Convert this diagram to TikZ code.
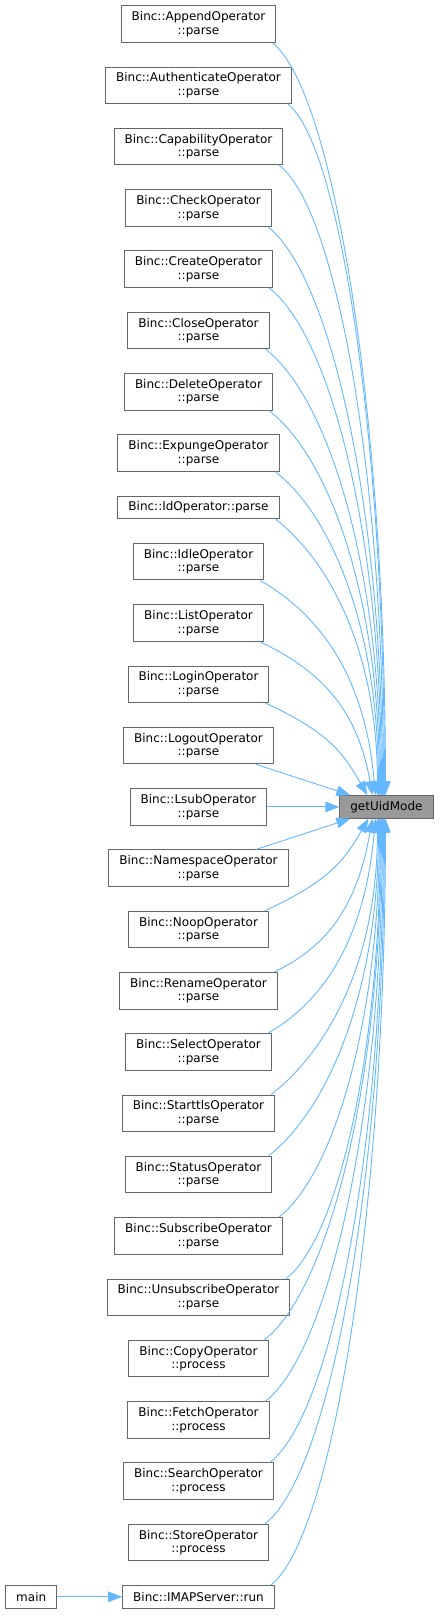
\documentclass[tikz,border=0pt]{standalone}
\usepackage{fontspec}
\setmainfont{DejaVu Sans}
\usepackage{tikz}
\usetikzlibrary{arrows.meta,positioning}
\definecolor{edgeblue}{HTML}{63B8FF}
\definecolor{boxgray}{HTML}{666666}
\definecolor{uidgray}{HTML}{999999}

\begin{document}
\begin{tikzpicture}[
        x=1pt, y=1pt,
        node distance=23.8pt and 72pt,
        box/.style={rectangle, draw=boxgray, line width=1pt, fill=#1, text=black,
            minimum height=36.5pt, inner xsep=10.5pt, inner ysep=2pt,
            align=center, font=\fontsize{12}{13.6}\selectfont},
        box/.default=white,
        onebox/.style={box=#1, minimum height=22.5pt},
        onebox/.default=white,
        call/.style={draw=edgeblue, line width=0.9pt, -{Triangle[length=14pt,width=10.5pt]}}
    ]
        \useasboundingbox (0,0) rectangle (440,-1616);
        % callers of getUidMode
        \node[box] (append) at (198.5,-24) {Binc::AppendOperator\\::parse};
        \node[box, below=of append] (authenticate) {Binc::AuthenticateOperator\\::parse};
        \node[box, below=of authenticate] (capability) {Binc::CapabilityOperator\\::parse};
        \node[box, below=of capability] (check) {Binc::CheckOperator\\::parse};
        \node[box, below=of check] (create) {Binc::CreateOperator\\::parse};
        \node[box, below=of create] (close) {Binc::CloseOperator\\::parse};
        \node[box, below=of close] (delete) {Binc::DeleteOperator\\::parse};
        \node[box, below=of delete] (expunge) {Binc::ExpungeOperator\\::parse};
        \node[onebox, below=of expunge] (idop) {Binc::IdOperator::parse};
        \node[box, below=of idop] (idle) {Binc::IdleOperator\\::parse};
        \node[box, below=of idle] (list) {Binc::ListOperator\\::parse};
        \node[box, below=of list] (login) {Binc::LoginOperator\\::parse};
        \node[box, below=of login] (logout) {Binc::LogoutOperator\\::parse};
        \node[box, below=of logout] (lsub) {Binc::LsubOperator\\::parse};
        \node[box, below=of lsub] (namespace) {Binc::NamespaceOperator\\::parse};
        \node[box, below=of namespace] (noop) {Binc::NoopOperator\\::parse};
        \node[box, below=of noop] (rename) {Binc::RenameOperator\\::parse};
        \node[box, below=of rename] (select) {Binc::SelectOperator\\::parse};
        \node[box, below=of select] (starttls) {Binc::StarttlsOperator\\::parse};
        \node[box, below=of starttls] (status) {Binc::StatusOperator\\::parse};
        \node[box, below=of status] (subscribe) {Binc::SubscribeOperator\\::parse};
        \node[box, below=of subscribe] (unsubscribe) {Binc::UnsubscribeOperator\\::parse};
        \node[box, below=of unsubscribe] (copy) {Binc::CopyOperator\\::process};
        \node[box, below=of copy] (fetch) {Binc::FetchOperator\\::process};
        \node[box, below=of fetch] (search) {Binc::SearchOperator\\::process};
        \node[box, below=of search] (store) {Binc::StoreOperator\\::process};
        \node[onebox, below=of store] (imapserver) {Binc::IMAPServer::run};
        \node[onebox, left=65pt of imapserver] (main) {main};
        % the called function
        \node[onebox=uidgray, right=of lsub] (uid) {getUidMode};

        \draw[call] ([xshift=-4pt]append.south east) to[out=-38, in=90, out distance=79pt, in distance=376pt] ([xshift=-1pt]uid.north);
        \draw[call] ([xshift=-4pt]authenticate.south east) to[out=-38, in=90, out distance=68pt, in distance=346pt] ([xshift=-2pt]uid.north);
        \draw[call] ([xshift=-4pt]capability.south east) to[out=-38, in=90, out distance=74pt, in distance=315pt] ([xshift=-3pt]uid.north);
        \draw[call] ([xshift=-4pt]check.south east) to[out=-38, in=90, out distance=81pt, in distance=284pt] ([xshift=-4pt]uid.north);
        \draw[call] ([xshift=-4pt]create.south east) to[out=-38, in=90, out distance=80pt, in distance=254pt] ([xshift=-5pt]uid.north);
        \draw[call] ([xshift=-4pt]close.south east) to[out=-38, in=90, out distance=82pt, in distance=223pt] ([xshift=-6pt]uid.north);
        \draw[call] ([xshift=-4pt]delete.south east) to[out=-38, in=90, out distance=80pt, in distance=192pt] ([xshift=-7pt]uid.north);
        \draw[call] ([xshift=-4pt]expunge.south east) to[out=-38, in=90, out distance=74pt, in distance=162pt] ([xshift=-8pt]uid.north);
        \draw[call] ([xshift=-4pt]idop.south east) to[out=-38, in=90, out distance=73pt, in distance=138pt] ([xshift=-9pt]uid.north);
        \draw[call] ([xshift=-4pt]idle.south east) to[out=-30, in=95, out distance=80pt, in distance=107pt] ([xshift=-11pt]uid.north);
        \draw[call] ([xshift=-4pt]list.south east) to[out=-25, in=100, out distance=78pt, in distance=77pt] ([xshift=-14pt]uid.north);
        \draw[call] ([xshift=-4pt]login.south east) to[out=-25, in=120, out distance=70pt, in distance=50pt] ([xshift=-19pt]uid.north);
        \draw[call] (logout) -- (uid);
        \draw[call] (lsub) -- (uid);
        \draw[call] (namespace) -- (uid);
        \draw[call] ([xshift=-4pt]noop.north east) to[out=25, in=-120, out distance=70pt, in distance=50pt] ([xshift=-18pt]uid.south);
        \draw[call] ([xshift=-4pt]rename.north east) to[out=25, in=-100, out distance=68pt, in distance=77pt] ([xshift=-14pt]uid.south);
        \draw[call] ([xshift=-4pt]select.north east) to[out=30, in=-95, out distance=75pt, in distance=107pt] ([xshift=-11pt]uid.south);
        \draw[call] ([xshift=-4pt]starttls.north east) to[out=38, in=-90, out distance=76pt, in distance=138pt] ([xshift=-9pt]uid.south);
        \draw[call] ([xshift=-4pt]status.north east) to[out=38, in=-90, out distance=78pt, in distance=169pt] ([xshift=-8pt]uid.south);
        \draw[call] ([xshift=-4pt]subscribe.north east) to[out=38, in=-90, out distance=71pt, in distance=199pt] ([xshift=-7pt]uid.south);
        \draw[call] ([xshift=-4pt]unsubscribe.north east) to[out=38, in=-90, out distance=67pt, in distance=230pt] ([xshift=-6pt]uid.south);
        \draw[call] ([xshift=-4pt]copy.north east) to[out=38, in=-90, out distance=82pt, in distance=261pt] ([xshift=-5pt]uid.south);
        \draw[call] ([xshift=-4pt]fetch.north east) to[out=38, in=-90, out distance=82pt, in distance=291pt] ([xshift=-4pt]uid.south);
        \draw[call] ([xshift=-4pt]search.north east) to[out=38, in=-90, out distance=81pt, in distance=322pt] ([xshift=-3pt]uid.south);
        \draw[call] ([xshift=-4pt]store.north east) to[out=38, in=-90, out distance=84pt, in distance=353pt] ([xshift=-2pt]uid.south);
        \draw[call] ([xshift=-4pt]imapserver.north east) to[out=38, in=-90, out distance=80pt, in distance=383pt] ([xshift=-1pt]uid.south);
        \draw[call] (main) -- (imapserver);
    \end{tikzpicture}
\end{document}
